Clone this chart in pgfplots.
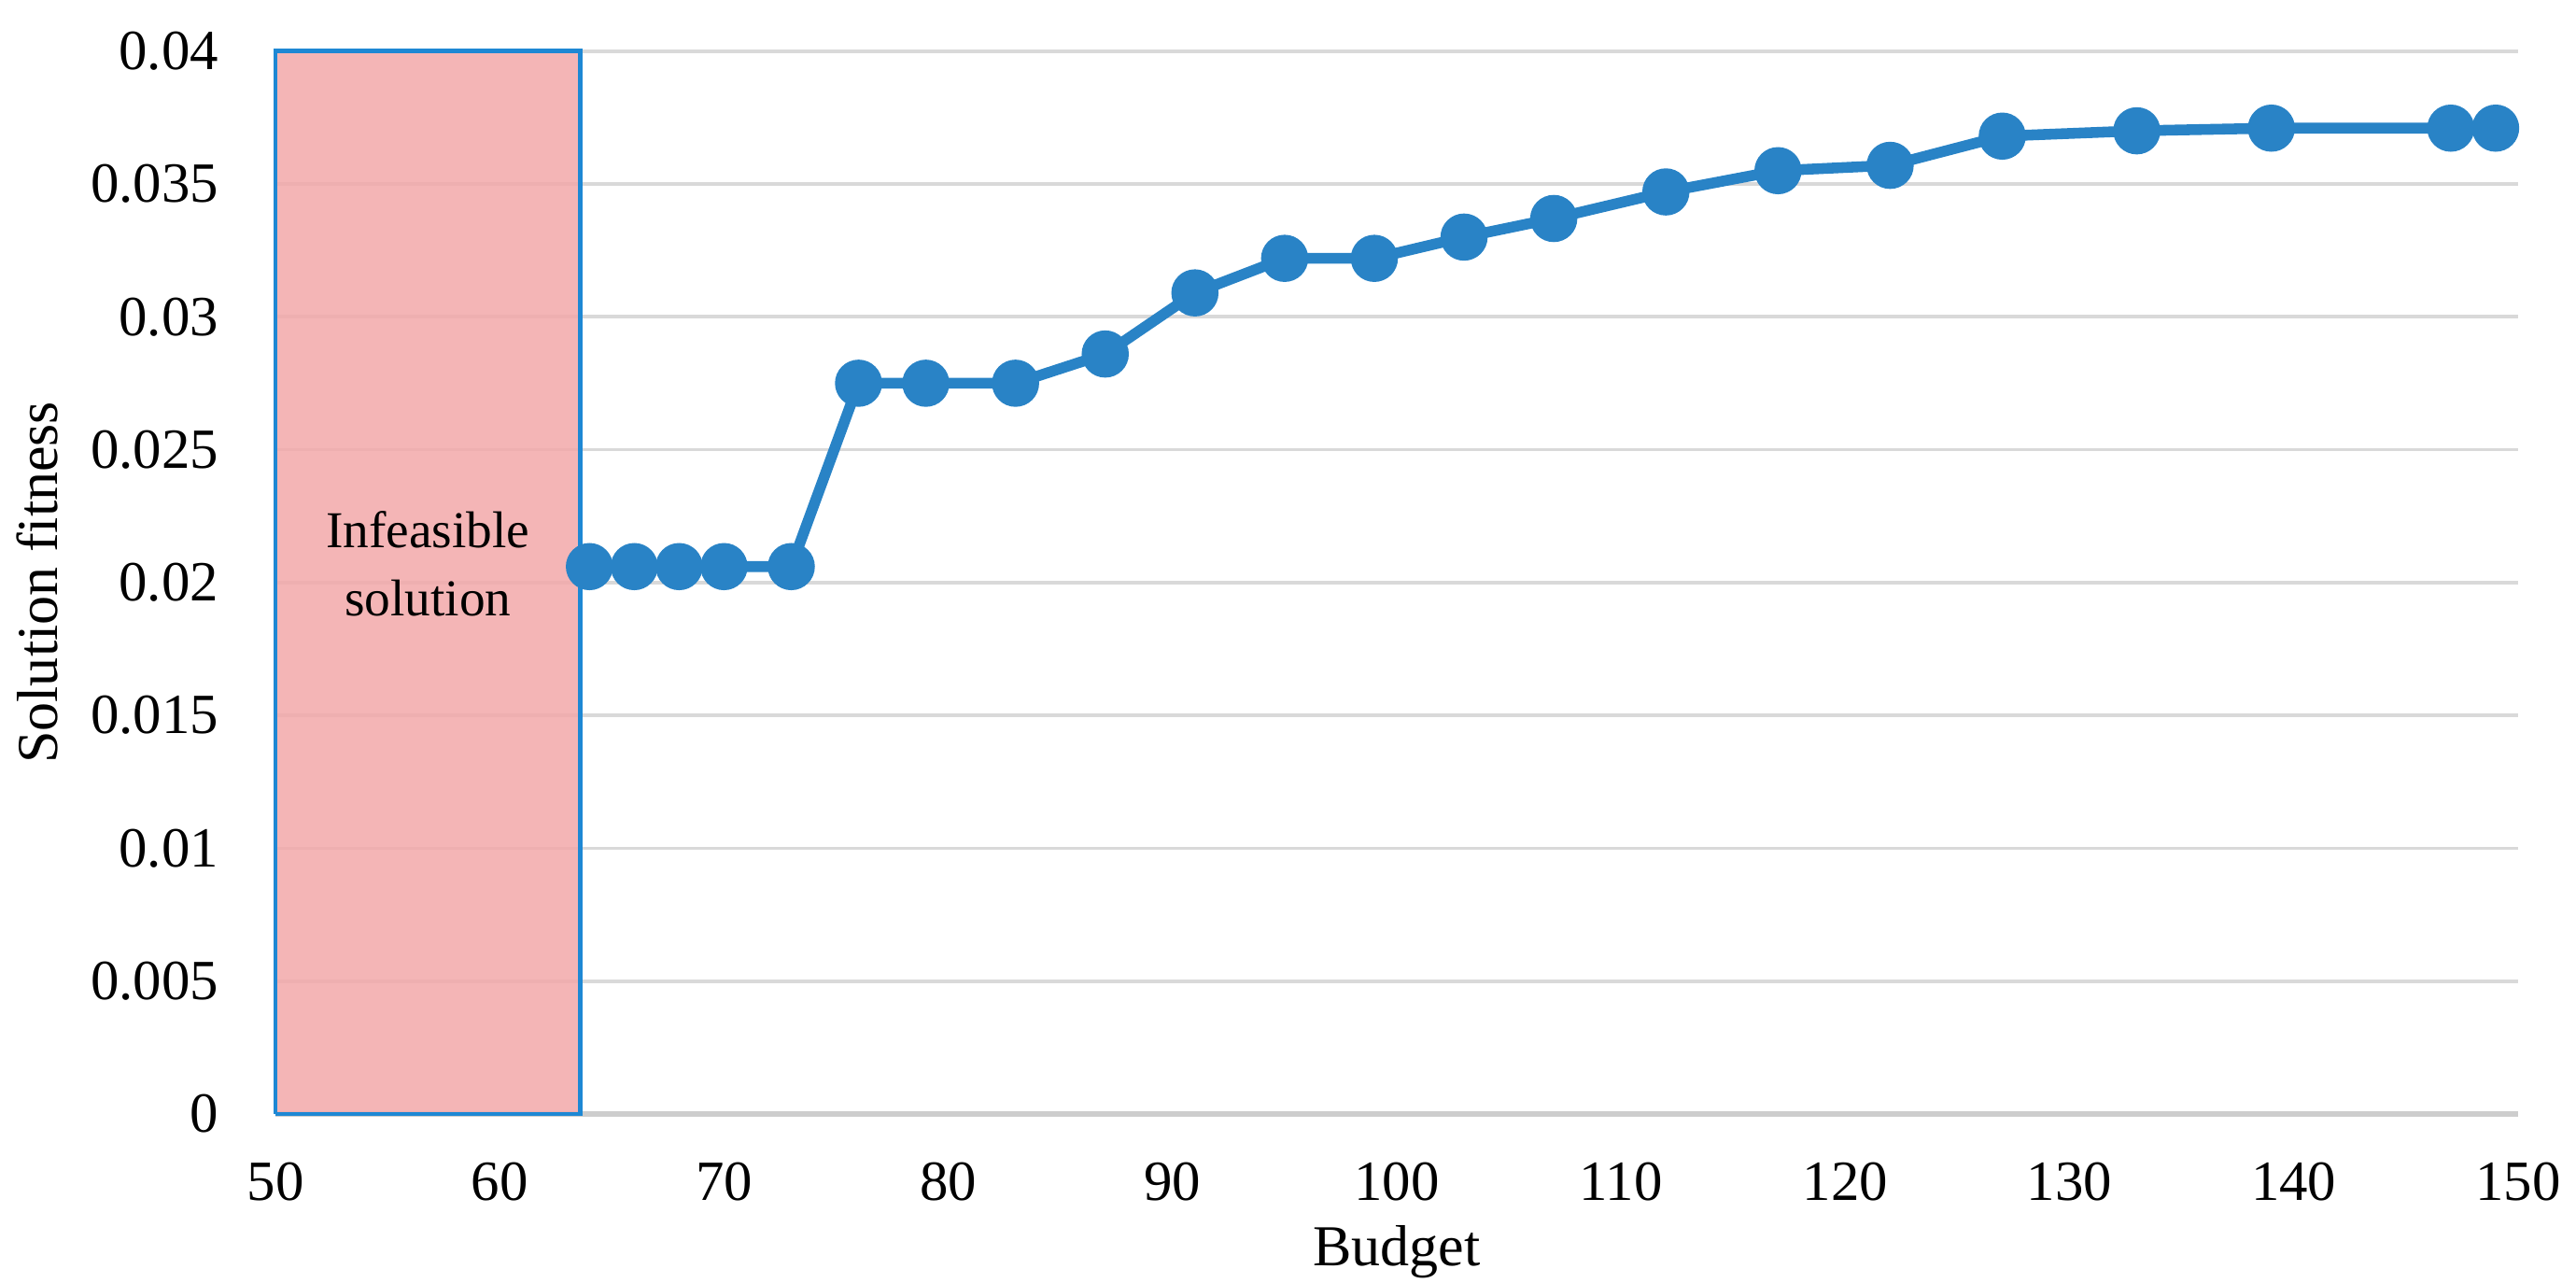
\documentclass[border=0pt]{standalone}
\usepackage{fontspec}
\setmainfont{Liberation Serif}
\usepackage{pgfplots}
\pgfplotsset{compat=1.18}
\definecolor{lineblue}{RGB}{41,131,198}
\definecolor{boxblue}{RGB}{30,136,212}
\definecolor{boxpink}{RGB}{242,168,169}
\definecolor{gridgray}{RGB}{217,217,217}
\definecolor{axgray}{RGB}{205,205,205}
\begin{document}
\begin{tikzpicture}
\begin{axis}[
 scale only axis, width=394.8pt, height=187.1pt,
 xmin=50, xmax=150, ymin=0, ymax=0.04,
 xtick={50,60,...,150},
 ytick={0,0.005,0.01,0.015,0.02,0.025,0.03,0.035,0.04},
 yticklabels={0,0.005,0.01,0.015,0.02,0.025,0.03,0.035,0.04},
 scaled y ticks=false,
 /pgf/number format/assume math mode=true,
 axis lines*=left,
 x axis line style={draw=axgray, line width=0.9pt, -},
 y axis line style={draw=none},
 major tick length=0pt,
 ymajorgrids, grid style={gridgray, line width=0.6pt},
 tick label style={font=\fontsize{10}{12}\selectfont},
 yticklabel style={xshift=-6.5pt},
 xticklabel style={yshift=-5pt},
 xlabel={Budget}, ylabel={Solution fitness},
 label style={font=\fontsize{10.2}{12}\selectfont},
 xlabel style={at={(axis description cs:0.5,-0.13)}, anchor=center},
 ylabel style={at={(axis description cs:-0.1064,0.5)}, anchor=center},
 clip=false,
]
\addplot[lineblue, line width=1.9pt, mark=*, mark size=3.2pt, mark options={solid, fill=lineblue, draw=lineblue}] coordinates {
(64,0.0206) (66,0.0206) (68,0.0206) (70,0.0206) (73,0.0206)
(76,0.0275) (79,0.0275) (83,0.0275) (87,0.0286) (91,0.0309)
(95,0.0322) (99,0.0322) (103,0.0330) (107,0.0337) (112,0.0347)
(117,0.0355) (122,0.0357) (127,0.0368) (133,0.0370) (139,0.0371)
(147,0.0371) (149,0.0371)
};
\addplot[draw=boxblue, line width=0.8pt, fill=boxpink, fill opacity=0.85] coordinates {(50,0) (63.6,0) (63.6,0.04) (50,0.04) (50,0)};
\node[align=center, font=\fontsize{9.1}{11.9}\selectfont] at (axis cs:56.8,0.0207) {Infeasible\\solution};
\end{axis}
\pgfresetboundingbox
\path ([shift={(-48.5pt,-29.6pt)}]current axis.south west) rectangle ([shift={(10.2pt,9pt)}]current axis.north east);
\end{tikzpicture}
\end{document}
